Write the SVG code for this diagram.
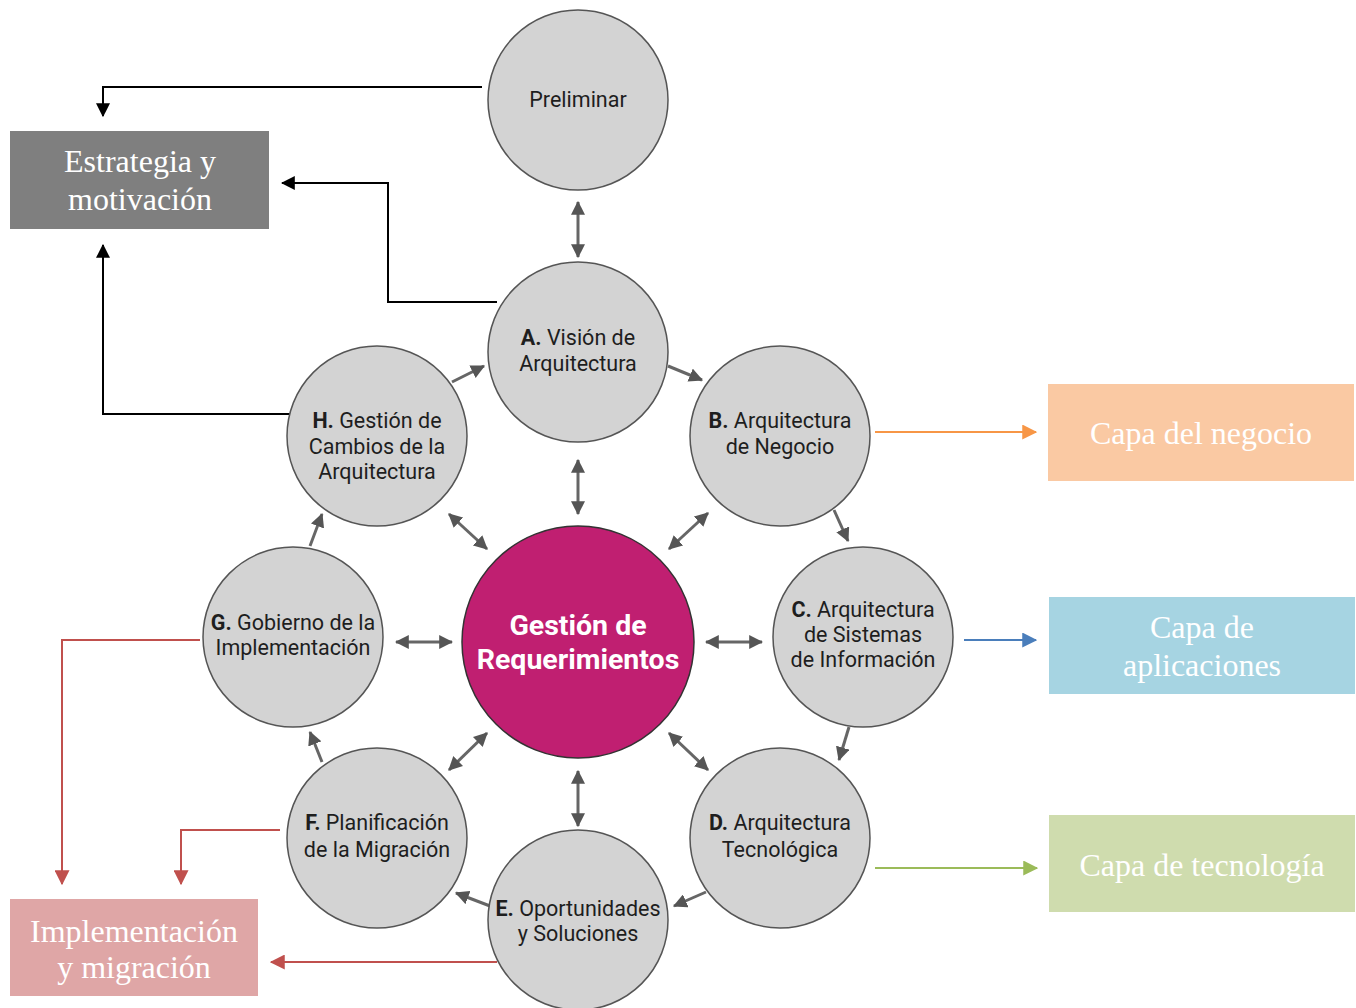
<svg xmlns="http://www.w3.org/2000/svg" width="1356" height="1008" viewBox="0 0 1356 1008">
  <defs>
    <marker id="gh" viewBox="0 0 12 12" refX="11" refY="6" markerWidth="14" markerHeight="14" markerUnits="userSpaceOnUse" orient="auto-start-reverse">
      <path d="M0,0 L12,6 L0,12 z" fill="#555"/>
    </marker>
    <marker id="bk" viewBox="0 0 12 12" refX="11" refY="6" markerWidth="14" markerHeight="14" markerUnits="userSpaceOnUse" orient="auto">
      <path d="M0,0 L12,6 L0,12 z" fill="#000"/>
    </marker>
    <marker id="rd" viewBox="0 0 12 12" refX="11" refY="6" markerWidth="15" markerHeight="15" markerUnits="userSpaceOnUse" orient="auto">
      <path d="M0,0 L12,6 L0,12 z" fill="#c0504d"/>
    </marker>
    <marker id="or" viewBox="0 0 12 12" refX="11" refY="6" markerWidth="15" markerHeight="15" markerUnits="userSpaceOnUse" orient="auto">
      <path d="M0,0 L12,6 L0,12 z" fill="#f79646"/>
    </marker>
    <marker id="bl" viewBox="0 0 12 12" refX="11" refY="6" markerWidth="15" markerHeight="15" markerUnits="userSpaceOnUse" orient="auto">
      <path d="M0,0 L12,6 L0,12 z" fill="#4a7ebb"/>
    </marker>
    <marker id="gr" viewBox="0 0 12 12" refX="11" refY="6" markerWidth="15" markerHeight="15" markerUnits="userSpaceOnUse" orient="auto">
      <path d="M0,0 L12,6 L0,12 z" fill="#9bbb59"/>
    </marker>
  </defs>
  <style>
    .phase { fill: #d3d3d3; stroke: #555; stroke-width: 1.5; }
    .core { fill: #c01f71; stroke: #333; stroke-width: 1.5; }
    .pt { font-family: Roboto, "Liberation Sans", sans-serif; font-size: 21.5px; fill: #1e1e1e; text-anchor: middle; }
    .pt tspan.k { font-weight: bold; }
    .ct { font-family: Roboto, "Liberation Sans", sans-serif; font-size: 28.5px; font-weight: bold; fill: #fff; text-anchor: middle; }
    .bt { font-family: "Liberation Serif", serif; font-size: 32px; fill: #fff; text-anchor: middle; }
    .g2 { fill: none; stroke: #666; stroke-width: 3; marker-start: url(#gh); marker-end: url(#gh); }
    .g1 { fill: none; stroke: #666; stroke-width: 3; marker-end: url(#gh); }
    .k1 { fill: none; stroke: #000; stroke-width: 2; marker-end: url(#bk); }
    .r1 { fill: none; stroke: #c0504d; stroke-width: 2; marker-end: url(#rd); }
  </style>

  <!-- connectors -->
  <g id="connectors">
    <!-- to strategy -->
    <path class="k1" d="M482,87 H103 V116"/>
    <path class="k1" d="M497,302 H388 V183 H282"/>
    <path class="k1" d="M293,414 H103 V245"/>
    <!-- to implementation -->
    <path class="r1" d="M200,640 H62 V884"/>
    <path class="r1" d="M280,830 H181 V884"/>
    <path class="r1" d="M497,962 H271"/>
    <!-- to layers -->
    <path d="M875,432 H1036" fill="none" stroke="#f79646" stroke-width="2" marker-end="url(#or)"/>
    <path d="M964,640 H1036" fill="none" stroke="#4a7ebb" stroke-width="2" marker-end="url(#bl)"/>
    <path d="M875,868 H1037" fill="none" stroke="#9bbb59" stroke-width="2" marker-end="url(#gr)"/>
    <!-- hub links -->
    <path class="g2" d="M578,202 V257"/>
    <path class="g2" d="M578,460 V514"/>
    <path class="g2" d="M669,549 L708,513"/>
    <path class="g2" d="M706,642 H762"/>
    <path class="g2" d="M669,733 L708,770"/>
    <path class="g2" d="M578,771 V826"/>
    <path class="g2" d="M487,733 L449,770"/>
    <path class="g2" d="M396,642 H452"/>
    <path class="g2" d="M449,514 L487,549"/>
    <!-- cycle -->
    <path class="g1" d="M452,382 L484,366"/>
    <path class="g1" d="M668,366 L702,380"/>
    <path class="g1" d="M834,510 L848,541"/>
    <path class="g1" d="M849,727 L839,760"/>
    <path class="g1" d="M706,892 L674,906"/>
    <path class="g1" d="M490,906 L456,893"/>
    <path class="g1" d="M322,762 L310,732"/>
    <path class="g1" d="M310,546 L322,514"/>
  </g>

  <!-- phases -->
  <g id="preliminar">
    <circle class="phase" cx="578" cy="100" r="90"/>
    <text class="pt" x="578" y="107">Preliminar</text>
  </g>
  <g id="fase-a">
    <circle class="phase" cx="578" cy="352" r="90"/>
    <text class="pt" x="578" y="345"><tspan class="k">A.</tspan> Visión de</text>
    <text class="pt" x="578" y="371">Arquitectura</text>
  </g>
  <g id="fase-b">
    <circle class="phase" cx="780" cy="436" r="90"/>
    <text class="pt" x="780" y="428"><tspan class="k">B.</tspan> Arquitectura</text>
    <text class="pt" x="780" y="454">de Negocio</text>
  </g>
  <g id="fase-c">
    <circle class="phase" cx="863" cy="637" r="90"/>
    <text class="pt" x="863" y="617"><tspan class="k">C.</tspan> Arquitectura</text>
    <text class="pt" x="863" y="642">de Sistemas</text>
    <text class="pt" x="863" y="667">de Información</text>
  </g>
  <g id="fase-d">
    <circle class="phase" cx="780" cy="838" r="90"/>
    <text class="pt" x="780" y="830"><tspan class="k">D.</tspan> Arquitectura</text>
    <text class="pt" x="780" y="857">Tecnológica</text>
  </g>
  <g id="fase-e">
    <circle class="phase" cx="578" cy="920" r="90"/>
    <text class="pt" x="578" y="916"><tspan class="k">E.</tspan> Oportunidades</text>
    <text class="pt" x="578" y="941">y Soluciones</text>
  </g>
  <g id="fase-f">
    <circle class="phase" cx="377" cy="838" r="90"/>
    <text class="pt" x="377" y="830"><tspan class="k">F.</tspan> Planificación</text>
    <text class="pt" x="377" y="857">de la Migración</text>
  </g>
  <g id="fase-g">
    <circle class="phase" cx="293" cy="637" r="90"/>
    <text class="pt" x="293" y="630"><tspan class="k">G.</tspan> Gobierno de la</text>
    <text class="pt" x="293" y="655">Implementación</text>
  </g>
  <g id="fase-h">
    <circle class="phase" cx="377" cy="436" r="90"/>
    <text class="pt" x="377" y="428"><tspan class="k">H.</tspan> Gestión de</text>
    <text class="pt" x="377" y="454">Cambios de la</text>
    <text class="pt" x="377" y="479">Arquitectura</text>
  </g>
  <g id="requerimientos">
    <circle class="core" cx="578" cy="642" r="116"/>
    <text class="ct" x="578" y="635">Gestión de</text>
    <text class="ct" x="578" y="669">Requerimientos</text>
  </g>

  <!-- outcome boxes -->
  <g id="estrategia">
    <rect x="10" y="131" width="259" height="98" fill="#7f7f7f"/>
    <text class="bt" x="140" y="172">Estrategia y</text>
    <text class="bt" x="140" y="210">motivación</text>
  </g>
  <g id="implementacion">
    <rect x="10" y="899" width="248" height="97" fill="#dfa6a6"/>
    <text class="bt" x="134" y="942">Implementación</text>
    <text class="bt" x="134" y="978">y migración</text>
  </g>
  <g id="capa-negocio">
    <rect x="1048" y="384" width="306" height="97" fill="#fac9a3"/>
    <text class="bt" x="1201" y="444">Capa del negocio</text>
  </g>
  <g id="capa-aplicaciones">
    <rect x="1049" y="597" width="306" height="97" fill="#a6d4e2"/>
    <text class="bt" x="1202" y="638">Capa de</text>
    <text class="bt" x="1202" y="676">aplicaciones</text>
  </g>
  <g id="capa-tecnologia">
    <rect x="1049" y="815" width="306" height="97" fill="#cfdcae"/>
    <text class="bt" x="1202" y="876">Capa de tecnología</text>
  </g>
</svg>
